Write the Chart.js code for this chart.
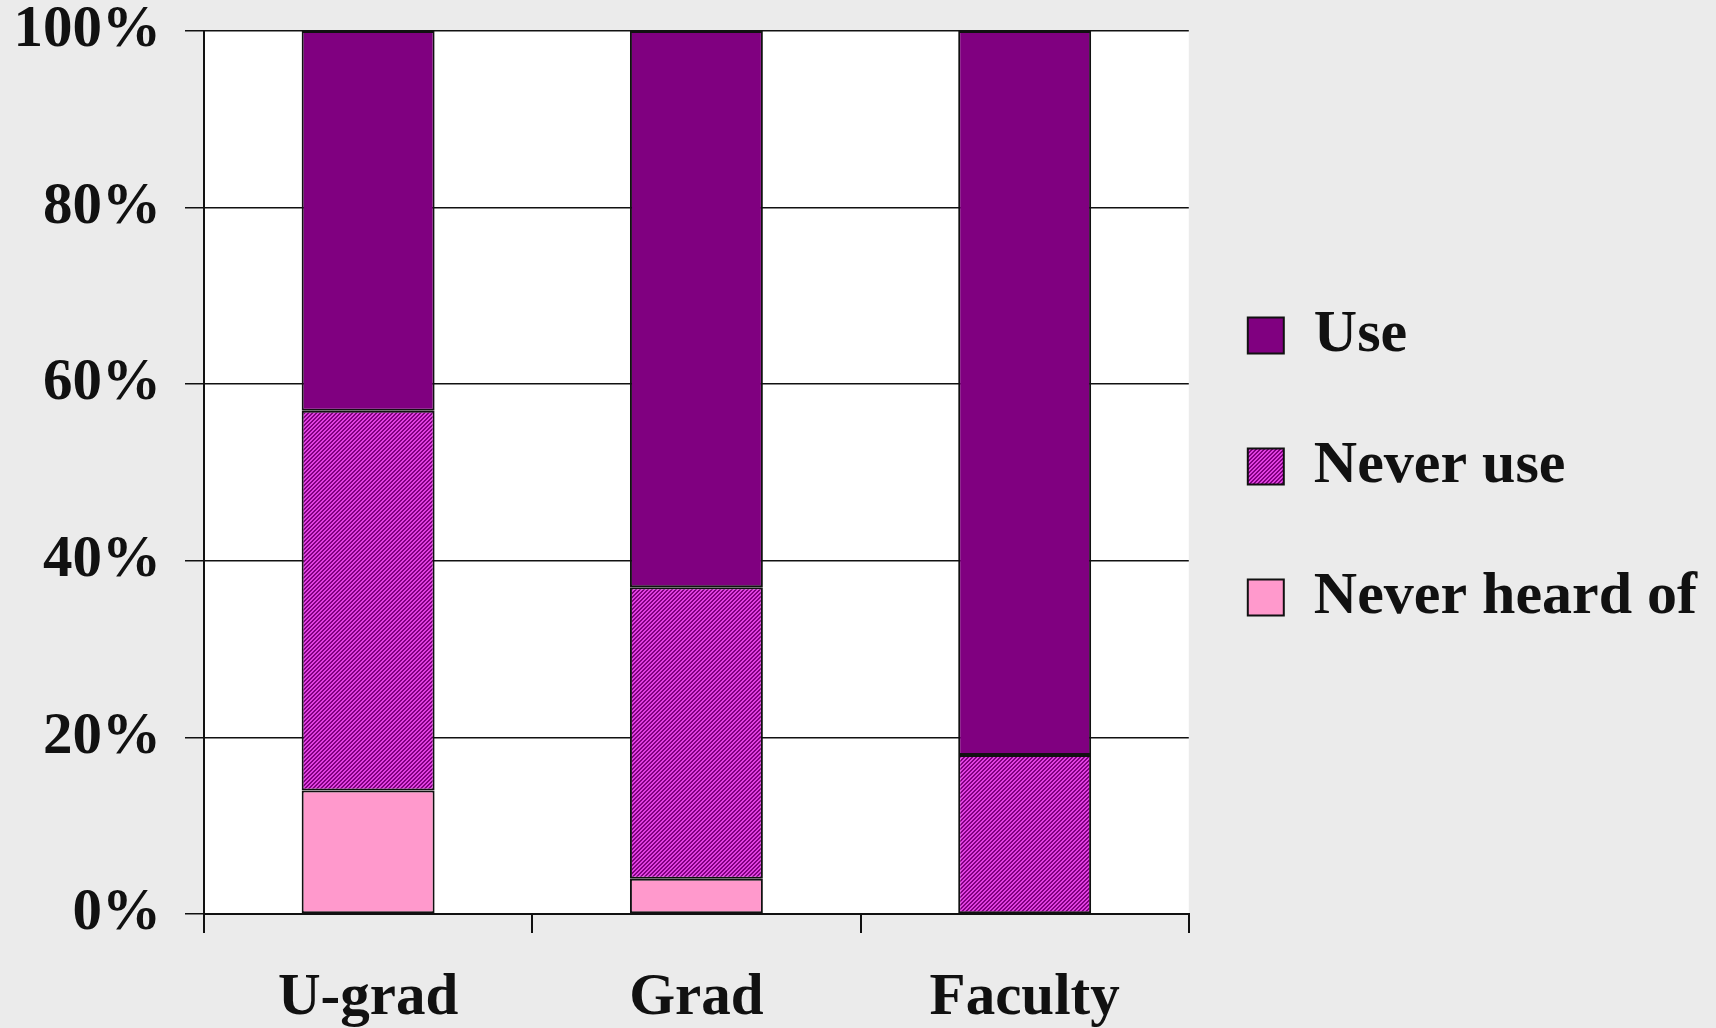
<!DOCTYPE html>
<html>
<head>
<meta charset="utf-8">
<script src="https://cdn.jsdelivr.net/npm/chart.js@4/dist/chart.umd.min.js"></script>
<style>
  html, body { margin: 0; padding: 0; background: #ebebeb; }
  #wrap { width: 1716px; height: 1028px; position: relative; }
</style>
</head>
<body>
<div id="wrap"><canvas id="barChart"></canvas></div>
<script>
// data (percent of each group)
var categories = ['U-grad', 'Grad', 'Faculty'];
var neverHeardOf = [14, 4, 0];
var neverUse = [43, 33, 18];
var useVals = [43, 63, 82];
var seriesNames = ['Never heard of', 'Never use', 'Use'];

// hatch fill for "Never use"
function makeHatch() {
  var c = document.createElement('canvas');
  c.width = 4; c.height = 4;
  var g = c.getContext('2d');
  var img = g.createImageData(4, 4);
  for (var y = 0; y < 4; y++) {
    for (var x = 0; x < 4; x++) {
      var i = (y * 4 + x) * 4;
      var dark = ((x + y) % 4) < 2;
      img.data[i] = dark ? 128 : 224;
      img.data[i + 1] = dark ? 0 : 64;
      img.data[i + 2] = dark ? 128 : 224;
      img.data[i + 3] = 255;
    }
  }
  g.putImageData(img, 0, 0);
  return g.createPattern(c, 'repeat');
}
var hatch = makeHatch();

// white plot area
var plotBg = {
  id: 'plotBg',
  beforeDraw: function (chart) {
    var a = chart.chartArea, ctx = chart.ctx;
    ctx.save();
    ctx.fillStyle = '#ffffff';
    ctx.fillRect(a.left, a.top, a.right - a.left, a.bottom - a.top);
    ctx.restore();
  }
};

var family = "'Liberation Serif', 'Times New Roman', serif";
var font = { family: family, size: 59, weight: 'bold' };

var barChartData = {
  labels: categories,
  datasets: [{
      label: seriesNames[0],
      data: neverHeardOf,
      backgroundColor: '#ff99cc',
      borderColor: '#111',
      borderWidth: 2,
      borderSkipped: false
    },
    {
      label: seriesNames[1],
      data: neverUse,
      backgroundColor: hatch,
      borderColor: '#111',
      borderWidth: 2,
      borderSkipped: false
    },
    {
      label: seriesNames[2],
      data: useVals,
      backgroundColor: '#800080',
      borderColor: '#111',
      borderWidth: 2,
      borderSkipped: false
    }
  ]
};

Chart.defaults.font.family = family;
Chart.defaults.color = '#111';

var ctx = document.getElementById('barChart').getContext('2d');
var myChart = new Chart(ctx, {
  type: 'bar',
  data: barChartData,
  plugins: [plotBg],
  options: {
    responsive: true,
    maintainAspectRatio: false,
    animation: false,
    categoryPercentage: 1,
    barPercentage: 0.405,
    layout: { padding: { left: 0, top: 31, right: 9, bottom: 0 } },
    plugins: {
      tooltip: { enabled: false },
      legend: {
        position: 'right',
        fullSize: false,
        reverse: true,
        maxWidth: 560,
        labels: {
          font: { family: family, size: 60, weight: 'bold', lineHeight: 1.2 },
          color: '#111',
          boxWidth: 36,
          boxHeight: 36,
          padding: 59,
          // one-line arrays so the row height follows the font line height
          generateLabels: function (chart) {
            var items = Chart.defaults.plugins.legend.labels.generateLabels(chart);
            items.forEach(function (it) { it.text = [it.text]; });
            return items;
          }
        }
      }
    },
    scales: {
      x: {
        stacked: true,
        afterFit: function (s) { s.height = 114; s.paddingLeft = 0; s.paddingRight = 0; },
        grid: {
          offset: true,
          color: function (c) { return c.index === categories.length ? '#111' : 'rgba(0,0,0,0)'; },
          tickColor: '#111',
          lineWidth: 2,
          tickLength: 19
        },
        border: { color: '#111', width: 2 },
        ticks: { font: font, color: '#111', padding: 30 }
      },
      y: {
        stacked: true,
        min: 0,
        max: 100,
        afterFit: function (s) { s.width = 204; s.paddingTop = 0; s.paddingBottom = 0; },
        grid: { color: '#111', lineWidth: 1.5, tickLength: 19 },
        border: { color: '#111', width: 2 },
        ticks: {
          stepSize: 20,
          font: font,
          color: '#111',
          padding: 24,
          callback: function (v) { return v + '%'; }
        }
      }
    }
  }
});
</script>
</body>
</html>
